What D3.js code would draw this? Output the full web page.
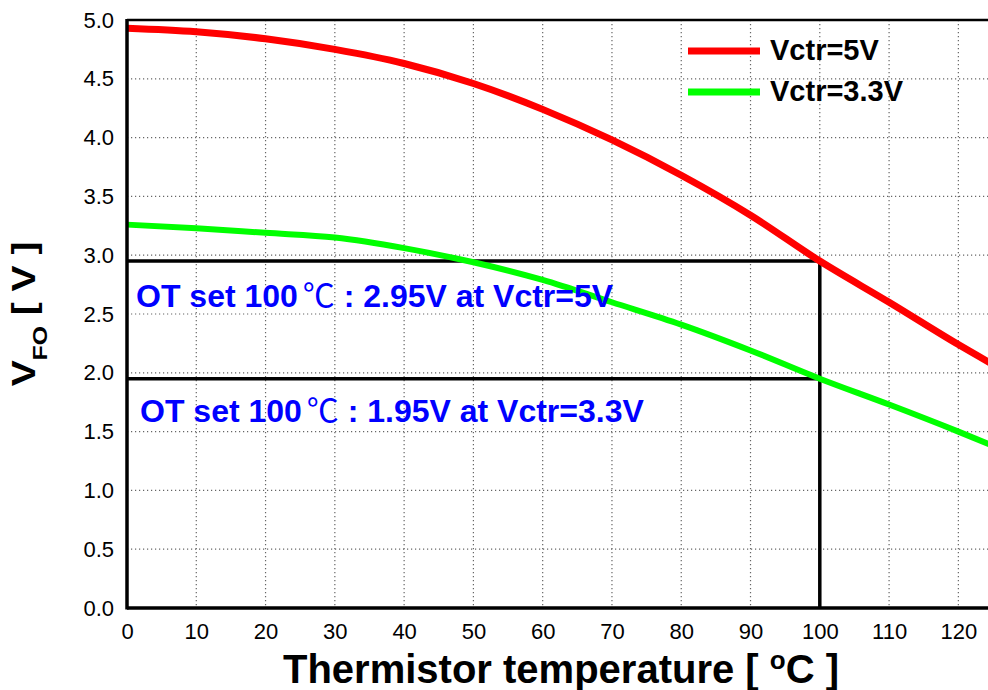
<!DOCTYPE html>
<html>
<head>
<meta charset="utf-8">
<script src="https://cdn.jsdelivr.net/npm/d3@7"></script>
<style>
  body { margin: 0; background: #fff; }
  svg { display: block; font-family: "Liberation Sans", Arial, sans-serif; }
  .grid line { stroke: #666; stroke-width: 1.2; stroke-dasharray: 1.2,2.8; }
  .tick text { font-size: 22px; fill: #000; }
</style>
</head>
<body>
<svg id="chart" width="988" height="690"></svg>
<script>
// temperature points (°C)
const temps = [0, 10, 20, 30, 40, 50, 60, 70, 80, 90, 100, 110, 120, 125];
// VFO readings for each control voltage
const vctr5 = [4.93, 4.90, 4.84, 4.75, 4.63, 4.46, 4.24, 3.98, 3.68, 3.34, 2.95, 2.60, 2.24, 2.07];
const vctr33 = [3.26, 3.23, 3.19, 3.15, 3.06, 2.94, 2.79, 2.60, 2.41, 2.19, 1.95, 1.73, 1.50, 1.38];
const xTicks = [0, 10, 20, 30, 40, 50, 60, 70, 80, 90, 100, 110, 120];
const yTicks = [0, 0.5, 1.0, 1.5, 2.0, 2.5, 3.0, 3.5, 4.0, 4.5, 5.0];
const otTemp = 100;
const otLevels = [2.95, 1.95];
const otNotes = ['2.95V at Vctr=5V', '1.95V at Vctr=3.3V'];
const seriesNames = ['Vctr=5V', 'Vctr=3.3V'];
const seriesColors = ['#ff0000', '#00ff00'];

const svg = d3.select('#chart');
const pLeft = 127, pTop = 20, pBottom = 608;

const x = d3.scaleLinear().domain([0, 125]).range([pLeft, pLeft + 866]);
const y = d3.scaleLinear().domain([0, 5]).range([pBottom, pTop]);

// grid
const grid = svg.append('g').attr('class', 'grid');
grid.selectAll('.vg').data(xTicks.slice(1)).enter().append('line')
  .attr('x1', d => x(d)).attr('x2', d => x(d))
  .attr('y1', pTop).attr('y2', pBottom);
grid.selectAll('.hg').data(yTicks.slice(1, -1)).enter().append('line')
  .attr('x1', pLeft).attr('x2', 988)
  .attr('y1', d => y(d)).attr('y2', d => y(d));

// axes (labels only)
const xAxis = svg.append('g')
  .attr('transform', 'translate(0,' + pBottom + ')')
  .call(d3.axisBottom(x).tickValues(xTicks).tickSize(0).tickPadding(15));
xAxis.select('.domain').remove();

const yAxis = svg.append('g')
  .attr('transform', 'translate(' + pLeft + ',0)')
  .call(d3.axisLeft(y).tickValues(yTicks).tickFormat(d3.format('.1f')).tickSize(0).tickPadding(13));
yAxis.select('.domain').remove();
svg.selectAll('.tick text').attr('font-family', null).attr('font-size', null);

// OT marker lines
svg.selectAll('.ot').data(otLevels).enter().append('line')
  .attr('x1', pLeft).attr('x2', x(otTemp) + 2)
  .attr('y1', d => y(d)).attr('y2', d => y(d))
  .attr('stroke', '#000').attr('stroke-width', 3.5);
svg.append('line')
  .attr('x1', x(otTemp)).attr('x2', x(otTemp))
  .attr('y1', y(otLevels[0]) - 1.5).attr('y2', pBottom)
  .attr('stroke', '#000').attr('stroke-width', 3.5);

// curves
const line = d3.line()
  .x((d, i) => x(temps[i]))
  .y(d => y(d))
  .curve(d3.curveMonotoneX);

[vctr5, vctr33].forEach(function (vals, i) {
  svg.append('path')
    .attr('d', line(vals))
    .attr('fill', 'none')
    .attr('stroke', seriesColors[i])
    .attr('stroke-width', i === 0 ? 7 : 6);
});

// frame
svg.append('line').attr('x1', pLeft).attr('x2', 988).attr('y1', pTop).attr('y2', pTop)
  .attr('stroke', '#000').attr('stroke-width', 2.5);
svg.append('line').attr('x1', pLeft).attr('x2', pLeft).attr('y1', pTop - 1).attr('y2', pBottom + 1.5)
  .attr('stroke', '#000').attr('stroke-width', 3.5);
svg.append('line').attr('x1', pLeft).attr('x2', 988).attr('y1', pBottom).attr('y2', pBottom)
  .attr('stroke', '#000').attr('stroke-width', 3.5);

// annotations
const notePos = [[136, 307], [140, 422]];
otNotes.forEach(function (txt, i) {
  const t = svg.append('text')
    .attr('x', notePos[i][0]).attr('y', notePos[i][1])
    .attr('fill', '#0000ff').attr('font-weight', 'bold').attr('font-size', 32);
  t.append('tspan').text('OT set ' + otTemp + ' ');
  t.append('tspan').attr('font-weight', 'normal').attr('dx', -4)
    .attr('font-family', '"Noto Sans CJK KR", "DejaVu Sans", sans-serif').text('℃');
  t.append('tspan').text(' : ' + txt);
});

// legend
seriesNames.forEach(function (name, i) {
  const ly = 51 + i * 41;
  svg.append('line')
    .attr('x1', 688).attr('x2', 760).attr('y1', ly).attr('y2', ly)
    .attr('stroke', seriesColors[i]).attr('stroke-width', 7);
  svg.append('text')
    .attr('x', 770).attr('y', ly + 9)
    .attr('font-size', 29).attr('font-weight', 'bold')
    .text(name);
});

// axis titles
const xt = svg.append('text')
  .attr('x', 561).attr('y', 683)
  .attr('text-anchor', 'middle')
  .attr('font-size', 40).attr('font-weight', 'bold');
xt.append('tspan').text('Thermistor temperature [ ');
xt.append('tspan').attr('font-size', 26).attr('dy', -14).text('o');
xt.append('tspan').attr('dy', 14).text('C ]');

const yt = svg.append('text')
  .attr('transform', 'translate(35,314) rotate(-90) scale(1.18,1)')
  .attr('text-anchor', 'middle')
  .attr('font-size', 33).attr('font-weight', 'bold');
yt.append('tspan').text('V');
yt.append('tspan').attr('font-size', 21).attr('dy', 12).text('FO');
yt.append('tspan').attr('dy', -12).text(' [ V ]');
</script>
</body>
</html>
